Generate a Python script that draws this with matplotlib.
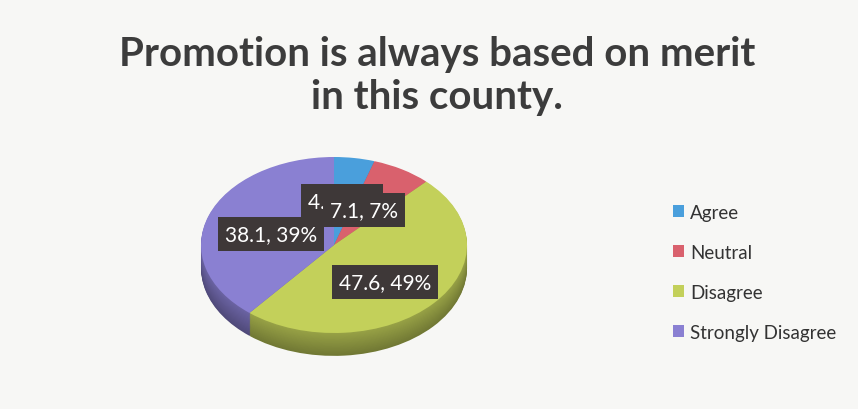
import matplotlib
matplotlib.use("Agg")
import matplotlib.pyplot as plt
from matplotlib.colors import to_rgb

# Survey responses
categories = ["Agree", "Neutral", "Disagree", "Strongly Disagree"]
values = [4.8, 7.1, 47.6, 38.1]
percent_labels = ["5%", "7%", "49%", "39%"]
colors = ["#4a9fdc", "#d9616d", "#c3d05a", "#8a80d2"]
title = "Promotion is always based on merit\nin this county."

W, H = 858, 410
fig = plt.figure(figsize=(W / 100, H / 100), dpi=100)
fig.patch.set_facecolor("#f7f7f5")

FONT = ["Lato", "DejaVu Sans"]

# pie axes: unit radius, squashed vertically to look tilted
cx, cy = 334, 246          # pixel centre of the top face
rx, ry = 133, 88           # pixel radii of the top face
depth = 0.26               # thickness of the disc in data units
xl, yl_top, yl_bot = 1.1, 1.1, -1.1 - depth - 0.1
left = cx - xl * rx
top = cy - yl_top * ry
width = 2 * xl * rx
height = (yl_top - yl_bot) * ry
ax = fig.add_axes([left / W, (H - top - height) / H, width / W, height / H])


def shade(c, f):
    r, g, b = to_rgb(c)
    return (r * f, g * f, b * f)


# side wall: stacked copies of the pie, darker towards the bottom
n_layers = 26
for i in range(n_layers, 0, -1):
    off = depth * i / n_layers
    f = 0.58 + 0.2 * (1 - i / n_layers)
    ax.pie(values, startangle=90, counterclock=False, center=(0, -off),
           colors=[shade(c, f) for c in colors],
           wedgeprops=dict(linewidth=0))

# top face
wedges, _ = ax.pie(values, startangle=90, counterclock=False,
                   colors=colors, wedgeprops=dict(linewidth=0))

ax.set_aspect("auto")
ax.set_xlim(-xl, xl)
ax.set_ylim(yl_bot, yl_top)
ax.axis("off")

# data labels ("value, percent"); later boxes sit on top of earlier ones
label_pos = {  # pixel centres of the label boxes
    "Agree": (342, 202),
    "Neutral": (364, 211),
    "Disagree": (385, 283),
    "Strongly Disagree": (271, 235),
}
for cat, v, p in zip(categories, values, percent_labels):
    x, y = label_pos[cat]
    fig.text(x / W, 1 - y / H, f"{v}, {p}", ha="center", va="center",
             color="white", fontsize=15, family=FONT,
             bbox=dict(boxstyle="square,pad=0.33", fc="#3e3838", ec="none"))

# title
fig.text(437 / W, 1 - 76 / H, title, ha="center", va="center",
         fontsize=29, fontweight="bold", color="#3c3c3c", family=FONT,
         linespacing=1.2)

# legend
leg = fig.legend(wedges, categories, loc="upper left",
                 bbox_to_anchor=(673 / W, 1 - 205 / H), frameon=False,
                 labelspacing=1.22, handlelength=0.6,
                 handleheight=0.6, handletextpad=0.3, borderpad=0,
                 borderaxespad=0, prop=dict(family=FONT, size=13.5))
for t in leg.get_texts():
    t.set_color("#333333")

fig.savefig("out.png", dpi=100, facecolor=fig.get_facecolor())
